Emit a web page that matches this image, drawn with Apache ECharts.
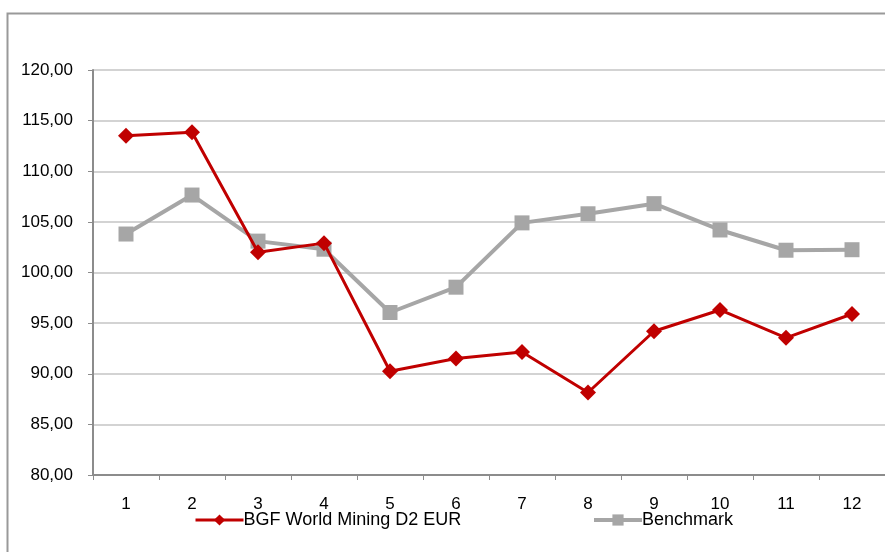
<!DOCTYPE html>
<html><head><meta charset="utf-8">
<script src="https://cdn.jsdelivr.net/npm/echarts@6/dist/echarts.min.js"></script>
<style>html,body{margin:0;padding:0;background:#fff}#c{width:885px;height:552px}</style>
</head><body><div id="c"></div>
<script>
var categories = ['1','2','3','4','5','6','7','8','9','10','11','12'];
var fundName = 'BGF World Mining D2 EUR';
var benchName = 'Benchmark';
var fundValues = [113.5, 113.85, 102.0, 102.9, 90.25, 91.5, 92.15, 88.15, 94.2, 96.3, 93.55, 95.9];
var benchValues = [103.8, 107.65, 103.1, 102.3, 96.05, 98.55, 104.9, 105.8, 106.8, 104.2, 102.2, 102.25];
var yMin = 80, yMax = 120, yStep = 5;

var chart = echarts.init(document.getElementById('c'), null, {renderer:'canvas'});
var font = 'Liberation Sans, Arial, sans-serif';
chart.setOption({
  animation: false,
  backgroundColor: '#fff',
  graphic: [{type:'rect', shape:{x:7.5,y:13.5,width:900,height:600}, style:{fill:'none',stroke:'#999',lineWidth:2}, z:-1}],
  grid: {left: 93, top: 70, width: 794, height: 405, containLabel: false},
  xAxis: {
    type: 'category', data: categories, boundaryGap: true,
    axisLine: {lineStyle: {color: '#8c8c8c', width: 2}},
    axisTick: {show: true, length: 5, lineStyle: {color: '#8c8c8c', width: 1}},
    axisLabel: {color: '#000', fontSize: 17, fontFamily: font, margin: 21},
    splitLine: {show: false}
  },
  yAxis: {
    type: 'value', min: yMin, max: yMax, interval: yStep,
    axisLine: {show: true, lineStyle: {color: '#8c8c8c', width: 2}},
    axisTick: {show: true, length: 5, lineStyle: {color: '#8c8c8c', width: 1}},
    axisLabel: {color: '#000', fontSize: 17, fontFamily: font, margin: 20,
      formatter: function(v){return v.toFixed(2).replace('.', ',');}},
    splitLine: {lineStyle: {color: '#c4c4c4', width: 1.5}}
  },
  legend: [
    {data:[fundName], left: 189, top: 506, itemWidth: 48, itemHeight: 14, itemGap: 0,
     lineStyle:{width:3}, textStyle:{color:'#000', fontSize:18, fontFamily:font, padding:[0,0,0,-5]}},
    {data:[benchName], left: 587, top: 506, itemWidth: 48, itemHeight: 14, itemGap: 0,
     lineStyle:{width:4}, textStyle:{color:'#000', fontSize:18, fontFamily:font, padding:[0,0,0,-5]}}
  ],
  series: [
    {name: benchName, type: 'line', data: benchValues, symbol: 'rect', symbolSize: 15,
     lineStyle: {color: '#a6a6a6', width: 4}, itemStyle: {color: '#a6a6a6'}, z: 2},
    {name: fundName, type: 'line', data: fundValues, symbol: 'diamond', symbolSize: 16,
     lineStyle: {color: '#c00000', width: 3}, itemStyle: {color: '#c00000'}, z: 3}
  ]
});
</script></body></html>
